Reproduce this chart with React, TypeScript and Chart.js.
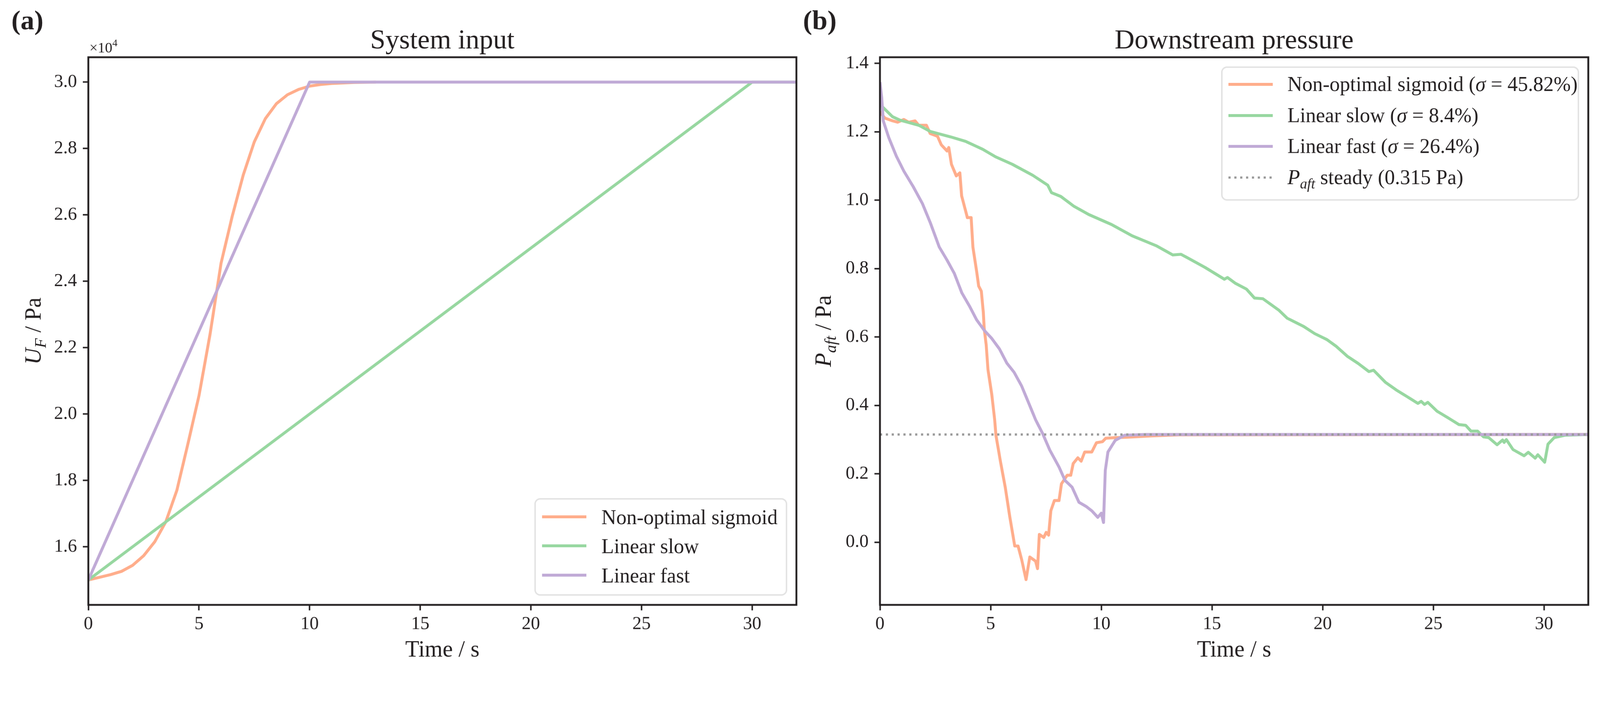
import { useEffect, useRef } from 'react';
import { Chart, registerables } from 'chart.js';

Chart.register(...registerables);

const FONT = '"Liberation Serif", "Times New Roman", serif';
const INK = '#231f20';
const ORANGE = '#ffad8b';
const GREEN = '#97d7a0';
const PURPLE = '#c0aad6';
const GREY = '#9a9a9a';
const W = 4366;
const H = 1819;

// shared
const timeTicks = [0, 5, 10, 15, 20, 25, 30];

// (a) system input, Pa
const inputTicks = [16000, 18000, 20000, 22000, 24000, 26000, 28000, 30000];
const sigmoidInputTime = [0, 0.5, 1, 1.5, 2, 2.5, 3, 3.5, 4, 4.5, 5, 5.5, 6, 6.5, 7, 7.5, 8, 8.5, 9, 9.5, 10, 10.5, 11, 12, 13];
const sigmoidInput = [15000, 15080, 15160, 15260, 15440, 15730, 16150, 16750, 17700, 19100, 20550, 22400, 24550, 25950, 27200, 28200, 28900, 29350, 29620, 29780, 29880, 29930, 29960, 29990, 30000];
const slowInputTime = [0, 30, 32];
const slowInput = [15000, 30000, 30000];
const fastInputTime = [0, 10, 32];
const fastInput = [15000, 30000, 30000];

// (b) downstream pressure, Pa
const pressureTicks = [0, 0.2, 0.4, 0.6, 0.8, 1.0, 1.2, 1.4];
const steadyPressure = 0.315;
const sigmoidPressureTime = [0, 0.07, 0.23, 0.57, 0.8, 1.08, 1.3, 1.59, 1.75, 2.1, 2.27, 2.6, 2.77, 3.03, 3.11, 3.23, 3.45, 3.61, 3.69, 3.95, 4.12, 4.2, 4.37, 4.46, 4.58, 4.67, 4.71, 4.8, 4.88, 5.05, 5.18, 5.24, 5.45, 5.66, 5.87, 6.09, 6.24, 6.4, 6.6, 6.77, 7.03, 7.12, 7.2, 7.4, 7.51, 7.62, 7.72, 7.88, 8.09, 8.2, 8.46, 8.62, 8.73, 8.94, 9.09, 9.25, 9.57, 9.78, 10.05, 10.2, 10.63, 11.16, 12.3, 13.5, 32];
const sigmoidPressure = [1.26, 1.252, 1.24, 1.232, 1.228, 1.236, 1.228, 1.232, 1.219, 1.219, 1.195, 1.187, 1.162, 1.144, 1.154, 1.105, 1.071, 1.08, 1.013, 0.949, 0.949, 0.863, 0.791, 0.749, 0.734, 0.672, 0.625, 0.577, 0.505, 0.433, 0.36, 0.313, 0.234, 0.161, 0.073, -0.011, -0.011, -0.05, -0.109, -0.043, -0.055, -0.077, 0.023, 0.014, 0.029, 0.021, 0.092, 0.122, 0.122, 0.171, 0.196, 0.196, 0.23, 0.247, 0.237, 0.264, 0.264, 0.291, 0.294, 0.304, 0.306, 0.307, 0.311, 0.314, 0.315];
const slowPressureTime = [0, 0.11, 0.57, 0.91, 1.76, 2.27, 3.2, 3.87, 4.64, 5.22, 5.98, 6.9, 7.58, 7.75, 8.17, 8.77, 9.44, 10.46, 11.39, 12.48, 13.23, 13.6, 13.97, 14.7, 15.56, 15.7, 16.06, 16.56, 16.92, 17.3, 18.03, 18.4, 19.14, 19.64, 20.18, 20.61, 21.11, 21.6, 22.09, 22.3, 22.83, 23.33, 23.81, 24.3, 24.45, 24.6, 24.75, 25.17, 25.66, 26.16, 26.46, 26.7, 27.0, 27.27, 27.5, 27.88, 28.13, 28.2, 28.3, 28.6, 29.1, 29.29, 29.6, 29.72, 30.03, 30.18, 30.46, 30.96, 32];
const slowPressure = [1.28, 1.273, 1.244, 1.234, 1.219, 1.201, 1.185, 1.172, 1.149, 1.127, 1.105, 1.073, 1.044, 1.022, 1.011, 0.982, 0.958, 0.929, 0.896, 0.867, 0.84, 0.842, 0.829, 0.803, 0.769, 0.774, 0.757, 0.74, 0.714, 0.712, 0.678, 0.655, 0.631, 0.61, 0.593, 0.573, 0.544, 0.523, 0.499, 0.503, 0.468, 0.445, 0.426, 0.406, 0.412, 0.403, 0.409, 0.383, 0.364, 0.344, 0.342, 0.325, 0.325, 0.308, 0.306, 0.285, 0.299, 0.292, 0.3, 0.271, 0.253, 0.263, 0.246, 0.256, 0.234, 0.287, 0.306, 0.313, 0.315];
const fastPressureTime = [0, 0.08, 0.15, 0.4, 0.74, 1.08, 1.5, 1.92, 2.27, 2.68, 3.03, 3.36, 3.7, 4.04, 4.37, 4.72, 5.05, 5.4, 5.73, 6.06, 6.4, 6.74, 7.04, 7.35, 7.67, 8.09, 8.36, 8.68, 8.99, 9.31, 9.57, 9.84, 10.0, 10.1, 10.18, 10.3, 10.63, 11.05, 12, 32];
const fastPressure = [1.345, 1.3, 1.232, 1.183, 1.129, 1.085, 1.04, 0.99, 0.935, 0.863, 0.825, 0.786, 0.729, 0.691, 0.65, 0.619, 0.596, 0.565, 0.524, 0.497, 0.457, 0.404, 0.357, 0.318, 0.27, 0.22, 0.181, 0.161, 0.117, 0.105, 0.092, 0.073, 0.085, 0.058, 0.21, 0.264, 0.298, 0.313, 0.315, 0.315];

type Seg = { t: string; it?: boolean; bold?: boolean; sub?: boolean; sup?: boolean };

const zip = (xs: number[], ys: number[]) => xs.map((x, i) => ({ x, y: ys[i] }));

function segFont(s: Seg, size: number) {
  const sz = s.sub || s.sup ? size * 0.7 : size;
  return `${s.it ? 'italic ' : ''}${s.bold ? 'bold ' : ''}${sz}px ${FONT}`;
}

function drawRich(ctx: CanvasRenderingContext2D, segs: Seg[], x: number, y: number, size: number, align: 'left' | 'center') {
  let w = 0;
  for (const s of segs) {
    ctx.font = segFont(s, size);
    w += ctx.measureText(s.t).width;
  }
  let cx = align === 'center' ? x - w / 2 : x;
  for (const s of segs) {
    ctx.font = segFont(s, size);
    const dy = s.sub ? size * 0.22 : s.sup ? -size * 0.42 : 0;
    ctx.fillText(s.t, cx, y + dy);
    cx += ctx.measureText(s.t).width;
  }
}

interface LegendItem { color: string; dash?: number[]; width: number; segs: Seg[] }
interface LegendSpec { corner: 'lr' | 'ur'; w: number; h: number; rows: number[]; handle: [number, number]; textX: number; dy: number; items: LegendItem[] }

// frame, titles, axis labels and the in-axes legend, drawn over the chart
const decor = {
  id: 'decor',
  afterDraw(chart: any, _args: any, o: any) {
    const { ctx, chartArea: a } = chart;
    ctx.save();
    ctx.strokeStyle = INK;
    ctx.lineWidth = 5;
    ctx.strokeRect(a.left, a.top, a.right - a.left, a.bottom - a.top);

    ctx.fillStyle = INK;
    ctx.textBaseline = 'alphabetic';
    const cx = (a.left + a.right) / 2;
    drawRich(ctx, [{ t: o.title }], cx, 132, 75, 'center');
    drawRich(ctx, [{ t: o.panel, bold: true }], o.panelX, 80, 75, 'left');
    drawRich(ctx, [{ t: 'Time / s' }], cx, 1790, 62.5, 'center');

    ctx.save();
    ctx.translate(o.yLabelX, (a.top + a.bottom) / 2);
    ctx.rotate(-Math.PI / 2);
    drawRich(ctx, o.yLabel, 0, 0, 62.5, 'center');
    ctx.restore();

    if (o.offsetText) {
      drawRich(ctx, [{ t: '×10' }, { t: '4', sup: true }], a.left + 3, 143, 40, 'left');
    }

    const L: LegendSpec = o.legend;
    const bx = a.right - 27 - L.w;
    const by = L.corner === 'lr' ? a.bottom - 27 - L.h : a.top + 27;
    ctx.beginPath();
    ctx.roundRect(bx, by, L.w, L.h, 14);
    ctx.fillStyle = 'rgba(255,255,255,0.85)';
    ctx.fill();
    ctx.strokeStyle = '#e2e2e2';
    ctx.lineWidth = 4;
    ctx.stroke();
    L.items.forEach((it, i) => {
      const ry = by + L.rows[i];
      ctx.beginPath();
      ctx.setLineDash(it.dash ?? []);
      ctx.strokeStyle = it.color;
      ctx.lineWidth = it.width;
      ctx.moveTo(bx + L.handle[0], ry);
      ctx.lineTo(bx + L.handle[1], ry);
      ctx.stroke();
      ctx.setLineDash([]);
      ctx.fillStyle = INK;
      drawRich(ctx, it.segs, bx + L.textX, ry + L.dy, 56, 'left');
    });
    ctx.restore();
  },
};

const tickFont = { family: FONT, size: 50 };
const gridOpts = { drawOnChartArea: false, drawTicks: true, tickLength: 15, tickWidth: 4, tickColor: INK };

function line(label: string, data: { x: number; y: number }[], color: string, order: number, extra: any = {}) {
  return { label, data, borderColor: color, borderWidth: 8, pointRadius: 0, tension: 0, fill: false, order, borderJoinStyle: 'round', ...extra };
}

function buildInput(canvas: HTMLCanvasElement) {
  return new Chart(canvas, {
    type: 'line',
    data: {
      datasets: [
        line('Non-optimal sigmoid', zip(sigmoidInputTime, sigmoidInput), ORANGE, 3),
        line('Linear slow', zip(slowInputTime, slowInput), GREEN, 2),
        line('Linear fast', zip(fastInputTime, fastInput), PURPLE, 1),
      ] as any,
    },
    options: {
      animation: false,
      responsive: false,
      devicePixelRatio: 1,
      layout: { padding: { top: 156, right: 12, bottom: 0, left: 0 } },
      scales: {
        x: {
          type: 'linear', min: 0, max: 32,
          afterFit: (s: any) => { s.height = 170; },
          afterBuildTicks: (s: any) => { s.ticks = timeTicks.map(value => ({ value })); },
          ticks: { font: tickFont, color: INK, padding: 8, maxRotation: 0, autoSkip: false },
          grid: gridOpts, border: { display: false },
        },
        y: {
          type: 'linear', min: 14250, max: 30750,
          afterFit: (s: any) => { s.width = 241; },
          afterBuildTicks: (s: any) => { s.ticks = inputTicks.map(value => ({ value })); },
          ticks: { font: tickFont, color: INK, padding: 16, callback: (v: any) => (Number(v) / 1e4).toFixed(1) },
          grid: gridOpts, border: { display: false },
        },
      },
      plugins: {
        legend: { display: false },
        tooltip: { enabled: false },
        decor: {
          title: 'System input', panel: '(a)', panelX: 31, yLabelX: 111, offsetText: true,
          yLabel: [{ t: 'U', it: true }, { t: 'F', it: true, sub: true }, { t: ' / Pa' }],
          legend: {
            corner: 'lr', w: 686, h: 262, rows: [49, 128, 208], handle: [19, 140], textX: 181, dy: 20,
            items: [
              { color: ORANGE, width: 8, segs: [{ t: 'Non-optimal sigmoid' }] },
              { color: GREEN, width: 8, segs: [{ t: 'Linear slow' }] },
              { color: PURPLE, width: 8, segs: [{ t: 'Linear fast' }] },
            ],
          },
        },
      } as any,
    },
    plugins: [decor],
  });
}

function buildPressure(canvas: HTMLCanvasElement) {
  return new Chart(canvas, {
    type: 'line',
    data: {
      datasets: [
        line('Non-optimal sigmoid (σ = 45.82%)', zip(sigmoidPressureTime, sigmoidPressure), ORANGE, 4),
        line('Linear slow (σ = 8.4%)', zip(slowPressureTime, slowPressure), GREEN, 3),
        line('Linear fast (σ = 26.4%)', zip(fastPressureTime, fastPressure), PURPLE, 2),
        line('P_aft steady (0.315 Pa)', [{ x: 0, y: steadyPressure }, { x: 32, y: steadyPressure }], GREY, 1, { borderWidth: 6, borderDash: [6, 10], borderCapStyle: 'butt' }),
      ] as any,
    },
    options: {
      animation: false,
      responsive: false,
      devicePixelRatio: 1,
      layout: { padding: { top: 156, right: 32, bottom: 0, left: 0 } },
      scales: {
        x: {
          type: 'linear', min: 0, max: 32,
          afterFit: (s: any) => { s.height = 170; },
          afterBuildTicks: (s: any) => { s.ticks = timeTicks.map(value => ({ value })); },
          ticks: { font: tickFont, color: INK, padding: 8, maxRotation: 0, autoSkip: false },
          grid: gridOpts, border: { display: false },
        },
        y: {
          type: 'linear', min: -0.183, max: 1.418,
          afterFit: (s: any) => { s.width = 216; },
          afterBuildTicks: (s: any) => { s.ticks = pressureTicks.map(value => ({ value })); },
          ticks: { font: tickFont, color: INK, padding: 16, callback: (v: any) => Number(v).toFixed(1) },
          grid: gridOpts, border: { display: false },
        },
      },
      plugins: {
        legend: { display: false },
        tooltip: { enabled: false },
        decor: {
          title: 'Downstream pressure', panel: '(b)', panelX: 6, yLabelX: 82, offsetText: false,
          yLabel: [{ t: 'P', it: true }, { t: 'aft', it: true, sub: true }, { t: ' / Pa' }],
          legend: {
            corner: 'ur', w: 973, h: 362, rows: [47, 132, 216, 301], handle: [18, 139], textX: 179, dy: 18,
            items: [
              { color: ORANGE, width: 8, segs: [{ t: 'Non-optimal sigmoid (' }, { t: 'σ', it: true }, { t: ' = 45.82%)' }] },
              { color: GREEN, width: 8, segs: [{ t: 'Linear slow (' }, { t: 'σ', it: true }, { t: ' = 8.4%)' }] },
              { color: PURPLE, width: 8, segs: [{ t: 'Linear fast (' }, { t: 'σ', it: true }, { t: ' = 26.4%)' }] },
              { color: GREY, width: 6, dash: [6, 10], segs: [{ t: 'P', it: true }, { t: 'aft', it: true, sub: true }, { t: ' steady (0.315 Pa)' }] },
            ],
          },
        },
      } as any,
    },
    plugins: [decor],
  });
}

function Panel({ left, width, scale, build }: { left: number; width: number; scale: number; build: (c: HTMLCanvasElement) => Chart }) {
  const ref = useRef<HTMLCanvasElement>(null);
  useEffect(() => {
    if (!ref.current) return;
    const chart = build(ref.current);
    return () => chart.destroy();
  }, [build]);
  // backing store stays in picture pixels; CSS size follows the viewport
  return (
    <canvas
      ref={ref}
      width={width}
      height={H}
      style={{ position: 'absolute', left: left * scale, top: 0, width: width * scale, height: H * scale }}
    />
  );
}

export default function App() {
  useEffect(() => {
    document.body.style.margin = '0';
  }, []);
  const scale = Math.min(window.innerWidth / W, window.innerHeight / H) || 1;
  return (
    <div style={{ position: 'relative', width: W * scale, height: H * scale, background: '#fff', overflow: 'hidden' }}>
      <Panel left={0} width={2185} scale={scale} build={buildInput} />
      <Panel left={2185} width={2181} scale={scale} build={buildPressure} />
    </div>
  );
}
